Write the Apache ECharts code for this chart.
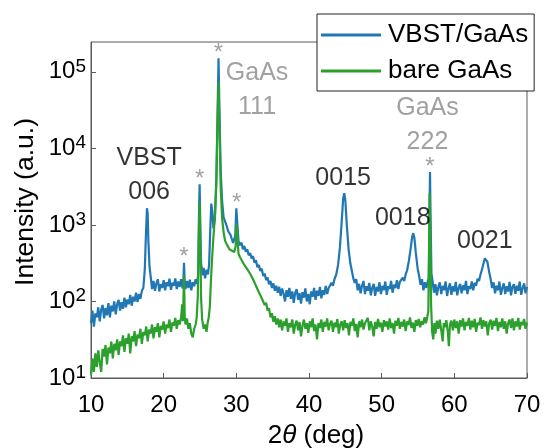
<!DOCTYPE html>
<html>
<head>
<meta charset="utf-8">
<script src="https://cdn.jsdelivr.net/npm/echarts@6/dist/echarts.min.js"></script>
<style>
  html, body { margin: 0; padding: 0; background: #fff; }
  #chart { width: 544px; height: 448px; }
</style>
</head>
<body>
<div id="chart"></div>
<script>
// XRD scans, [2theta (deg), intensity (a.u.)]
var vbstGaAs = [
  [10.0,52],[10.2,76],[10.4,47],[10.6,70],[10.8,62],[11.0,84],[11.2,55],[11.4,78],[11.6,90],[11.8,60],
  [12.0,82],[12.2,66],[12.4,95],[12.6,62],[12.8,88],[13.0,74],[13.2,100],[13.4,68],[13.6,92],[13.8,105],
  [14.0,76],[14.2,98],[14.4,80],[14.6,112],[14.8,84],[15.0,106],[15.2,92],[15.4,122],[15.6,88],[15.8,115],
  [16.0,100],[16.2,130],[16.4,98],[16.6,125],[16.8,108],[17.0,138],[17.2,150],[17.4,260],[17.55,700],[17.7,1650],
  [17.8,1400],[17.9,600],[18.05,290],[18.25,195],[18.4,145],[18.6,185],[18.8,138],[19.0,172],[19.2,195],[19.4,135],
  [19.6,168],[19.8,150],[20.0,190],[20.2,140],[20.4,178],[20.6,158],[20.8,198],[21.0,142],[21.2,175],[21.4,160],
  [21.6,200],[21.8,145],[22.0,182],[22.2,155],[22.4,195],[22.6,148],[22.7,165],[22.8,320],[22.9,170],[23.0,145],
  [23.2,185],[23.4,150],[23.6,192],[23.8,140],[24.0,178],[24.2,158],[24.4,195],[24.6,170],[24.75,230],[24.85,1200],
  [24.95,3400],[25.05,900],[25.15,320],[25.35,220],[25.5,275],[25.7,200],[25.9,260],[26.1,225],[26.25,300],[26.4,800],
  [26.55,1900],[26.7,1500],[26.85,900],[27.05,1200],[27.25,4000],[27.42,30000],[27.55,150000],[27.68,30000],[27.85,5000],[28.05,2000],
  [28.25,1250],[28.55,1050],[28.9,820],[29.2,740],[29.55,580],[29.85,720],[30.0,1650],[30.12,1100],[30.3,620],[30.5,540],
  [30.7,590],[30.9,480],[31.1,530],[31.3,445],[31.5,480],[31.7,400],[31.9,430],[32.1,365],[32.3,390],[32.5,320],
  [32.7,345],[32.9,280],[33.1,300],[33.3,250],[33.5,268],[33.7,215],[33.9,232],[34.1,190],[34.3,205],[34.5,168],
  [34.7,185],[34.9,150],[35.1,172],[35.3,138],[35.5,160],[35.7,130],[35.9,155],[36.1,118],[36.3,148],[36.5,126],
  [36.7,100],[36.9,140],[37.1,115],[37.3,150],[37.5,108],[37.7,135],[37.9,96],[38.1,130],[38.3,145],[38.5,105],
  [38.7,128],[38.9,94],[39.1,132],[39.3,112],[39.5,148],[39.7,100],[39.9,125],[40.1,92],[40.3,135],[40.5,115],
  [40.7,150],[40.9,105],[41.1,138],[41.3,118],[41.5,155],[41.7,110],[41.9,140],[42.1,122],[42.3,160],[42.5,125],
  [42.7,150],[42.9,145],[43.1,175],[43.3,160],[43.5,195],[43.75,225],[44.0,300],[44.25,500],[44.5,1100],[44.7,2200],
  [44.85,2600],[45.0,2100],[45.2,1000],[45.45,480],[45.7,310],[45.9,250],[46.1,200],[46.3,175],[46.5,195],[46.7,140],
  [46.9,170],[47.1,128],[47.3,160],[47.5,185],[47.7,125],[47.9,158],[48.1,138],[48.3,175],[48.5,120],[48.7,150],
  [48.9,170],[49.1,118],[49.3,155],[49.5,135],[49.7,178],[49.9,125],[50.1,160],[50.3,140],[50.5,182],[50.7,122],
  [50.9,158],[51.1,145],[51.3,185],[51.5,130],[51.7,165],[51.9,150],[52.1,190],[52.3,145],[52.5,180],[52.7,170],
  [52.9,205],[53.1,185],[53.3,225],[53.5,255],[53.75,340],[54.0,500],[54.2,700],[54.35,780],[54.5,680],[54.7,430],
  [54.95,270],[55.15,215],[55.35,165],[55.55,195],[55.75,140],[55.95,178],[56.15,150],[56.35,185],[56.48,200],[56.58,1200],
  [56.65,4900],[56.72,1500],[56.85,230],[57.0,185],[57.2,130],[57.4,168],[57.6,120],[57.8,155],[58.0,178],[58.2,125],
  [58.4,160],[58.6,140],[58.8,182],[59.0,118],[59.2,150],[59.4,172],[59.6,122],[59.8,158],[60.0,135],[60.2,180],
  [60.4,120],[60.6,150],[60.8,170],[61.0,128],[61.2,162],[61.4,140],[61.6,185],[61.8,125],[62.0,158],[62.2,145],
  [62.4,182],[62.6,140],[62.8,175],[63.0,160],[63.2,198],[63.4,185],[63.6,225],[63.8,260],[64.0,310],[64.2,365],
  [64.35,370],[64.55,330],[64.8,240],[65.0,195],[65.2,150],[65.4,178],[65.6,128],[65.8,160],[66.0,140],[66.2,182],
  [66.4,122],[66.6,150],[66.8,172],[67.0,125],[67.2,158],[67.4,135],[67.6,180],[67.8,120],[68.0,155],[68.2,168],
  [68.4,126],[68.6,160],[68.8,138],[69.0,182],[69.2,122],[69.4,150],[69.6,172],[69.8,128],[70.0,155]
];

var bareGaAs = [
  [10.0,11],[10.2,18],[10.4,12],[10.6,21],[10.8,14],[11.0,23],[11.2,16],[11.4,12],[11.6,24],[11.8,19],
  [12.0,27],[12.2,15],[12.4,25],[12.6,21],[12.8,30],[13.0,18],[13.2,28],[13.4,23],[13.6,32],[13.8,20],
  [14.0,30],[14.2,26],[14.4,36],[14.6,22],[14.8,33],[15.0,28],[15.2,38],[15.4,21],[15.6,35],[15.8,30],
  [16.0,41],[16.2,26],[16.4,37],[16.6,33],[16.8,44],[17.0,28],[17.2,40],[17.4,36],[17.6,47],[17.8,30],
  [18.0,43],[18.2,38],[18.4,50],[18.6,33],[18.8,46],[19.0,40],[19.2,52],[19.4,34],[19.6,48],[19.8,43],
  [20.0,55],[20.2,38],[20.4,50],[20.6,45],[20.8,58],[21.0,40],[21.2,53],[21.4,48],[21.6,61],[21.8,44],
  [22.0,57],[22.2,50],[22.4,62],[22.55,92],[22.65,55],[22.8,220],[22.9,62],[23.0,50],[23.2,60],[23.4,44],
  [23.6,52],[23.8,38],[24.0,34],[24.2,44],[24.4,50],[24.55,62],[24.7,120],[24.85,800],[24.95,2000],[25.05,500],
  [25.15,110],[25.3,58],[25.5,44],[25.7,50],[25.9,40],[26.05,52],[26.2,62],[26.35,85],[26.5,180],[26.65,350],
  [26.85,700],[27.05,1300],[27.25,3500],[27.4,20000],[27.55,73000],[27.68,20000],[27.85,3000],[28.05,1200],[28.25,800],[28.45,620],
  [28.75,540],[29.05,480],[29.4,460],[29.7,440],[29.9,520],[30.05,1050],[30.15,700],[30.3,420],[30.5,380],[30.7,350],
  [30.9,365],[31.1,300],[31.3,310],[31.5,265],[31.7,275],[31.9,230],[32.1,240],[32.3,195],[32.5,200],[32.7,160],
  [32.9,165],[33.1,132],[33.3,138],[33.5,110],[33.7,116],[33.9,90],[34.1,96],[34.3,76],[34.5,82],[34.7,62],
  [34.9,70],[35.1,54],[35.3,64],[35.5,50],[35.7,60],[35.9,46],[36.1,58],[36.3,42],[36.5,55],[36.7,48],
  [36.9,60],[37.1,40],[37.3,52],[37.5,46],[37.7,58],[37.9,38],[38.1,50],[38.3,56],[38.5,42],[38.7,54],
  [38.9,35],[39.1,48],[39.3,58],[39.5,44],[39.7,52],[39.9,39],[40.1,55],[40.3,46],[40.5,60],[40.7,41],
  [40.9,50],[41.1,32],[41.3,52],[41.5,45],[41.7,58],[41.9,40],[42.1,54],[42.3,47],[42.5,60],[42.7,42],
  [42.9,51],[43.1,56],[43.3,40],[43.5,53],[43.7,46],[43.9,59],[44.1,38],[44.3,50],[44.5,55],[44.7,42],
  [44.9,57],[45.1,45],[45.3,52],[45.5,36],[45.7,54],[45.9,48],[46.1,60],[46.3,41],[46.5,51],[46.7,34],
  [46.9,55],[47.1,46],[47.3,58],[47.5,43],[47.7,52],[47.9,49],[48.1,61],[48.3,42],[48.5,55],[48.7,47],
  [48.9,35],[49.1,54],[49.3,44],[49.5,59],[49.7,46],[49.9,53],[50.1,40],[50.3,57],[50.5,47],[50.7,55],
  [50.9,43],[51.1,60],[51.3,45],[51.5,52],[51.7,38],[51.9,56],[52.1,48],[52.3,61],[52.5,44],[52.7,54],
  [52.9,47],[53.1,58],[53.3,41],[53.5,55],[53.7,49],[53.9,62],[54.1,45],[54.3,53],[54.5,40],[54.7,57],
  [54.9,48],[55.1,59],[55.3,46],[55.5,55],[55.7,50],[55.9,62],[56.1,52],[56.3,64],[56.42,75],[56.5,300],
  [56.6,2600],[56.7,800],[56.8,90],[56.95,40],[57.1,32],[57.25,52],[57.4,38],[57.6,56],[57.8,44],[58.0,58],
  [58.2,42],[58.4,30],[58.55,52],[58.7,46],[58.9,57],[59.1,40],[59.25,26],[59.4,50],[59.6,56],[59.8,42],
  [60.0,58],[60.2,45],[60.4,55],[60.6,38],[60.8,57],[61.0,47],[61.2,60],[61.4,42],[61.6,54],[61.8,48],
  [62.0,61],[62.2,43],[62.4,56],[62.6,46],[62.8,59],[63.0,40],[63.2,53],[63.4,49],[63.6,62],[63.8,44],
  [64.0,57],[64.2,47],[64.4,55],[64.6,36],[64.8,52],[65.0,58],[65.2,43],[65.4,56],[65.6,48],[65.8,61],
  [66.0,41],[66.2,54],[66.4,46],[66.6,60],[66.8,44],[67.0,55],[67.2,38],[67.4,52],[67.6,58],[67.8,45],
  [68.0,60],[68.2,42],[68.4,55],[68.6,47],[68.8,61],[69.0,43],[69.2,54],[69.4,49],[69.6,59],[69.8,44],
  [70.0,53]
];

// film reflections (black) and substrate reflections (grey)
var filmNames = ['VBST\n006', '0015', '0018', '0021'];
var filmNameAngles = [18.0, 44.7, 52.9, 64.2];
var filmNameHeights = [4470, 4090, 1245, 617];

var subNames = ['GaAs\n111', 'GaAs\n222'];
var subNameAngles = [32.85, 56.3];
var subNameHeights = [57000, 20000];

// substrate peaks marked with *
var starAngles = [22.8, 24.95, 27.55, 30.05, 56.65];
var starHeights = [320, 3400, 150000, 1650, 4900];

var xTicks = [10, 20, 30, 40, 50, 60, 70];

var FONT = '"Liberation Sans", Arial, sans-serif';
var AXIS_COLOR = '#5a5a5a';
var GREY = '#8a8a8a';
var BLUE = '#2077b4';
var GREEN = '#2ca02c';

function pairs(xs, ys, names) {
  return xs.map(function (x, i) {
    return { value: [x, ys[i]], name: names ? names[i] : '' };
  });
}

var chart = echarts.init(document.getElementById('chart'), null, { renderer: 'canvas' });

var option = {
  animation: false,
  backgroundColor: '#fff',
  textStyle: { fontFamily: FONT },
  grid: {
    left: 91, right: 17, top: 42, bottom: 70,
    outerBoundsMode: 'none',
    containLabel: false,
    show: true, borderColor: AXIS_COLOR, borderWidth: 1
  },
  legend: {
    data: ['VBST/GaAs', 'bare GaAs'],
    orient: 'vertical',
    left: 317, top: 14,
    padding: [8, 6, 7, 4],
    itemGap: 10,
    itemWidth: 60,
    itemHeight: 3,
    icon: 'rect',
    backgroundColor: '#fff',
    borderColor: '#222',
    borderWidth: 1,
    textStyle: { fontSize: 26, lineHeight: 24, color: '#000', fontFamily: FONT, padding: [0, 0, 0, 2] }
  },
  xAxis: {
    type: 'value',
    min: xTicks[0], max: xTicks[xTicks.length - 1], interval: 10,
    axisLine: { lineStyle: { color: AXIS_COLOR, width: 1 } },
    axisTick: { inside: true, length: 5, lineStyle: { color: AXIS_COLOR } },
    axisLabel: { color: '#000', fontSize: 24, margin: 15, fontFamily: FONT },
    splitLine: { show: false },
    name: '{n|2}{i|θ}{n| (deg)}',
    nameLocation: 'middle',
    nameGap: 45,
    nameMoveOverlap: false,
    nameTextStyle: {
      padding: [0, 0, 0, 14],
      rich: {
        n: { fontSize: 26, color: '#000', fontFamily: FONT },
        i: { fontSize: 26, color: '#000', fontFamily: FONT, fontStyle: 'italic' }
      }
    }
  },
  yAxis: {
    type: 'log',
    logBase: 10,
    min: 10, max: 245000,
    axisLine: { show: true, lineStyle: { color: AXIS_COLOR, width: 1 } },
    axisTick: { show: true, inside: true, length: 5, lineStyle: { color: AXIS_COLOR } },
    axisLabel: {
      margin: 5,
      showMaxLabel: false,
      formatter: function (v) {
        var e = Math.round(Math.log(v) / Math.LN10);
        return '{b|10}{s|' + e + '}';
      },
      rich: {
        b: { fontSize: 24, lineHeight: 30, color: '#000', fontFamily: FONT },
        s: { fontSize: 19, lineHeight: 19, color: '#000', fontFamily: FONT, verticalAlign: 'top' }
      }
    },
    splitLine: { show: false },
    minorTick: { show: false },
    name: 'Intensity (a.u.)',
    nameLocation: 'middle',
    nameGap: 52,
    nameMoveOverlap: false,
    nameTextStyle: { fontSize: 26.5, color: '#000', fontFamily: FONT, padding: [0, 0, 0, 16] }
  },
  series: [
    {
      name: 'VBST/GaAs',
      type: 'line',
      data: vbstGaAs,
      symbol: 'none',
      color: BLUE,
      lineStyle: { width: 2.2, color: BLUE },
      z: 2
    },
    {
      name: 'bare GaAs',
      type: 'line',
      data: bareGaAs,
      symbol: 'none',
      color: GREEN,
      lineStyle: { width: 2.2, color: GREEN },
      z: 3
    },
    {
      type: 'scatter',
      silent: true,
      symbolSize: 1,
      itemStyle: { color: 'rgba(0,0,0,0)' },
      data: pairs(filmNameAngles, filmNameHeights, filmNames),
      label: {
        show: true, position: 'inside', formatter: '{b}',
        color: '#000', fontSize: 25, lineHeight: 34, align: 'center', fontFamily: FONT
      },
      z: 5
    },
    {
      type: 'scatter',
      silent: true,
      symbolSize: 1,
      itemStyle: { color: 'rgba(0,0,0,0)' },
      data: pairs(subNameAngles, subNameHeights, subNames),
      label: {
        show: true, position: 'inside', formatter: '{b}',
        color: GREY, fontSize: 25, lineHeight: 34, align: 'center', fontFamily: FONT
      },
      z: 5
    },
    {
      type: 'scatter',
      silent: true,
      symbolSize: 1,
      itemStyle: { color: 'rgba(0,0,0,0)' },
      data: pairs(starAngles, starHeights),
      label: {
        show: true, position: 'inside', formatter: '*',
        offset: [0, -5],
        color: GREY, fontSize: 24, fontFamily: FONT
      },
      z: 5
    }
  ]
};

chart.setOption(option);
</script>
</body>
</html>
